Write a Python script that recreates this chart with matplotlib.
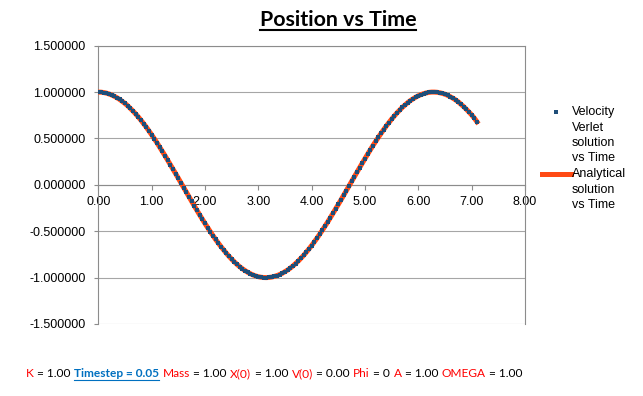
import matplotlib
matplotlib.use("Agg")
import matplotlib.pyplot as plt
from matplotlib.lines import Line2D
from matplotlib.ticker import FormatStrFormatter

plt.rcParams["font.family"] = ["Liberation Sans", "DejaVu Sans"]
plt.rcParams["font.size"] = 9

# time samples (timestep 0.05)
time_s = [
    0.00, 0.05, 0.10, 0.15, 0.20, 0.25, 0.30, 0.35, 0.40, 0.45,
    0.50, 0.55, 0.60, 0.65, 0.70, 0.75, 0.80, 0.85, 0.90, 0.95,
    1.00, 1.05, 1.10, 1.15, 1.20, 1.25, 1.30, 1.35, 1.40, 1.45,
    1.50, 1.55, 1.60, 1.65, 1.70, 1.75, 1.80, 1.85, 1.90, 1.95,
    2.00, 2.05, 2.10, 2.15, 2.20, 2.25, 2.30, 2.35, 2.40, 2.45,
    2.50, 2.55, 2.60, 2.65, 2.70, 2.75, 2.80, 2.85, 2.90, 2.95,
    3.00, 3.05, 3.10, 3.15, 3.20, 3.25, 3.30, 3.35, 3.40, 3.45,
    3.50, 3.55, 3.60, 3.65, 3.70, 3.75, 3.80, 3.85, 3.90, 3.95,
    4.00, 4.05, 4.10, 4.15, 4.20, 4.25, 4.30, 4.35, 4.40, 4.45,
    4.50, 4.55, 4.60, 4.65, 4.70, 4.75, 4.80, 4.85, 4.90, 4.95,
    5.00, 5.05, 5.10, 5.15, 5.20, 5.25, 5.30, 5.35, 5.40, 5.45,
    5.50, 5.55, 5.60, 5.65, 5.70, 5.75, 5.80, 5.85, 5.90, 5.95,
    6.00, 6.05, 6.10, 6.15, 6.20, 6.25, 6.30, 6.35, 6.40, 6.45,
    6.50, 6.55, 6.60, 6.65, 6.70, 6.75, 6.80, 6.85, 6.90, 6.95,
    7.00, 7.05, 7.10,
]

# velocity verlet position
verlet_pos = [
    1.000, 0.999, 0.995, 0.989, 0.980, 0.969, 0.955, 0.939, 0.921, 0.900,
    0.878, 0.853, 0.825, 0.796, 0.765, 0.732, 0.697, 0.660, 0.622, 0.582,
    0.540, 0.498, 0.454, 0.408, 0.362, 0.315, 0.267, 0.219, 0.170, 0.121,
    0.071, 0.021, -0.029, -0.079, -0.129, -0.178, -0.227, -0.276, -0.323, -0.370,
    -0.416, -0.461, -0.505, -0.547, -0.589, -0.628, -0.666, -0.702, -0.737, -0.770,
    -0.801, -0.830, -0.857, -0.882, -0.904, -0.924, -0.942, -0.958, -0.971, -0.982,
    -0.990, -0.996, -0.999, -1.000, -0.998, -0.994, -0.987, -0.978, -0.967, -0.953,
    -0.936, -0.918, -0.897, -0.874, -0.848, -0.821, -0.791, -0.760, -0.726, -0.691,
    -0.654, -0.615, -0.575, -0.533, -0.490, -0.446, -0.401, -0.355, -0.307, -0.259,
    -0.211, -0.162, -0.112, -0.062, -0.012, 0.038, 0.087, 0.137, 0.186, 0.235,
    0.284, 0.331, 0.378, 0.424, 0.469, 0.512, 0.554, 0.595, 0.635, 0.672,
    0.709, 0.743, 0.776, 0.806, 0.835, 0.861, 0.886, 0.908, 0.927, 0.945,
    0.960, 0.973, 0.983, 0.991, 0.997, 1.000, 1.000, 0.998, 0.993, 0.986,
    0.977, 0.965, 0.950, 0.934, 0.915, 0.894, 0.869, 0.843, 0.815, 0.785,
    0.754, 0.719, 0.679,
]

# analytical solution - same as verlet to within a pixel
analytic_pos = list(verlet_pos)

x_ticks = [0, 1, 2, 3, 4, 5, 6, 7, 8]
y_ticks = [-1.5, -1.0, -0.5, 0.0, 0.5, 1.0, 1.5]

legend_labels = ["Velocity\nVerlet\nsolution\nvs Time", "Analytical\nsolution\nvs Time"]

# footer: (text, colour, bold)
footer_parts = [
    ("K", "#ff0000", False), ("= 1.00", "#000000", False),
    ("Timestep = 0.05", "#0070c0", True),
    ("Mass", "#ff0000", False), ("= 1.00", "#000000", False),
    ("X(0)", "#ff0000", False), ("= 1.00", "#000000", False),
    ("V(0)", "#ff0000", False), ("= 0.00", "#000000", False),
    ("Phi", "#ff0000", False), ("= 0", "#000000", False),
    ("A", "#ff0000", False), ("= 1.00", "#000000", False),
    ("OMEGA", "#ff0000", False), ("= 1.00", "#000000", False),
]

BLUE = "#1f4e79"
ORANGE = "#ff4a14"
GRID = "#a6a6a6"
AXIS = "#8c8c8c"
FOOT_SIZE = 8.6

W, H = 643, 396
fig = plt.figure(figsize=(W / 100, H / 100), dpi=100)
ax = fig.add_axes([98.3 / W, 1 - 324 / H, (525 - 98.3) / W, (324 - 45.7) / H])

ax.plot(time_s, analytic_pos, color=ORANGE, lw=3.6, zorder=3)
ax.plot(time_s, verlet_pos, ls="none", marker="s", ms=2.9, color=BLUE, mew=0, zorder=4)

ax.set_xlim(0, 8)
ax.set_ylim(-1.5, 1.5)
ax.set_xticks(x_ticks)
ax.set_yticks(y_ticks)
ax.xaxis.set_major_formatter(FormatStrFormatter("%.2f"))
ax.yaxis.set_major_formatter(FormatStrFormatter("%.6f"))
ax.grid(axis="y", color=GRID, lw=0.8)
ax.set_axisbelow(True)

ax.spines["bottom"].set_position(("data", 0))
for s in ax.spines.values():
    s.set_color(AXIS)
    s.set_linewidth(0.8)
ax.tick_params(axis="x", direction="out", length=3.6, width=0.8, color=AXIS, pad=4.5, labelsize=9)
ax.tick_params(axis="y", direction="out", length=3.0, width=0.8, color=AXIS, pad=6.2, labelsize=9)

# legend, drawn by hand so keys line up with first line of each label
fig.add_artist(Line2D([556 / W], [1 - 112 / H], ls="none", marker="s", ms=2.9,
                      color=BLUE, mew=0, transform=fig.transFigure))
fig.text(572 / W, 1 - 106.5 / H, legend_labels[0], va="top", ha="left", linespacing=1.36)
fig.add_artist(Line2D([542 / W, 571 / W], [1 - 174 / H] * 2, color=ORANGE, lw=3.6,
                      transform=fig.transFigure))
fig.text(572 / W, 1 - 168.5 / H, legend_labels[1], va="top", ha="left", linespacing=1.36)

# title with underline
title = fig.text(338 / W, 1 - 20 / H, "Position vs Time", ha="center", va="center",
                 family="Lato", weight="bold", fontsize=15.4)
fig.canvas.draw()
r = fig.canvas.get_renderer()
bb = title.get_window_extent(r)
fig.add_artist(Line2D([bb.x0 / W, bb.x1 / W], [(H - 29.5) / H] * 2, color="black", lw=1.5,
                      transform=fig.transFigure))

# footer line of parameters, pieced together in colour
gap = fig.text(0, 0, "a a", family="Lato", fontsize=FOOT_SIZE)
nogap = fig.text(0, 0, "aa", family="Lato", fontsize=FOOT_SIZE)
space_w = gap.get_window_extent(r).width - nogap.get_window_extent(r).width
gap.remove()
nogap.remove()

x = 26.0
y = H - 377
for txt, col, bold in footer_parts:
    t = fig.text(x / W, y / H, txt, color=col, family="Lato", fontsize=FOOT_SIZE,
                 weight="bold" if bold else "normal", va="baseline", ha="left")
    w = t.get_window_extent(r).width
    if bold:
        fig.add_artist(Line2D([x / W, (x + w) / W], [(y - 2.5) / H] * 2, color=col, lw=0.8,
                              transform=fig.transFigure))
    x += w + space_w + 0.4

fig.savefig("out.png", dpi=100)
